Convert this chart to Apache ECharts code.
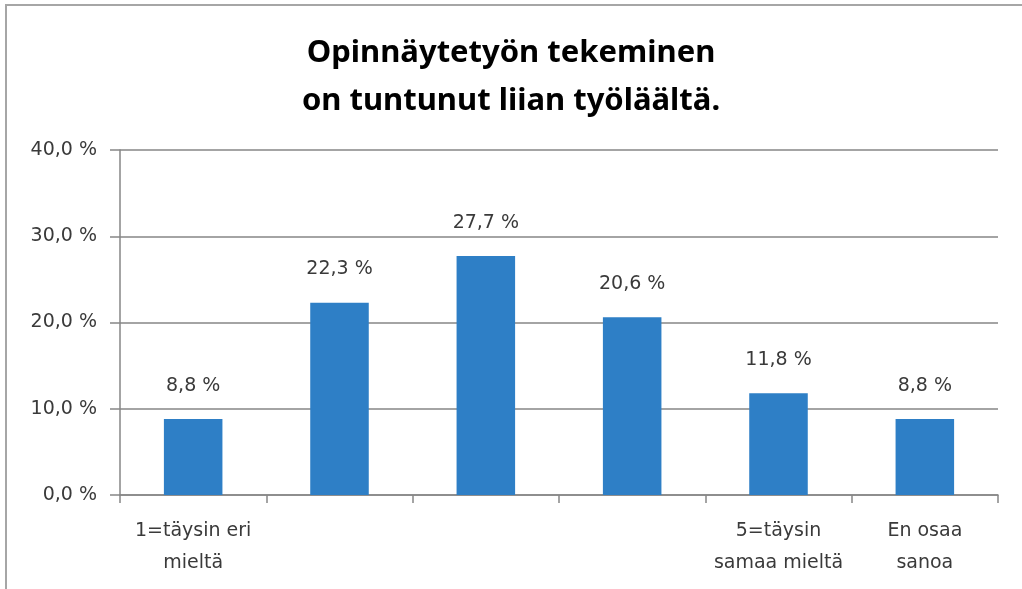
<!DOCTYPE html>
<html>
<head>
<meta charset="utf-8">
<script src="https://cdn.jsdelivr.net/npm/echarts@6/dist/echarts.min.js"></script>
<style>
  html, body { margin: 0; padding: 0; background: #fff; }
  #chart { width: 1022px; height: 589px; }
</style>
</head>
<body>
<div id="chart"></div>
<script>
// data
const categories = ['1=täysin eri\nmieltä', '', '', '', '5=täysin\nsamaa mieltä', 'En osaa\nsanoa'];
const shares = [8.8, 22.3, 27.7, 20.6, 11.8, 8.8];
const yTicks = [0, 10, 20, 30, 40];

const titleText = 'Opinnäytetyön tekeminen\non tuntunut liian työläältä.';
const axisGray = '#868686';
const textGray = '#3a3a3a';
const labelFont = 'DejaVu Sans, sans-serif';

function pct(v) {
    return v.toFixed(1).replace('.', ',') + ' %';
}

const chart = echarts.init(document.getElementById('chart'), null, { renderer: 'canvas' });

chart.setOption({
    animation: false,
    backgroundColor: '#fff',
    title: {
        text: titleText,
        left: 'center',
        top: 24,
        textStyle: {
            fontFamily: 'Noto Sans, sans-serif',
            fontSize: 31,
            fontWeight: 'bold',
            color: '#000',
            lineHeight: 48
        }
    },
    graphic: [{
        type: 'rect',
        shape: { x: 6, y: 5, width: 1200, height: 800 },
        style: { fill: 'none', stroke: '#a6a6a6', lineWidth: 2 },
        silent: true
    }],
    grid: { left: 120, right: 24, top: 150, bottom: 94 },
    xAxis: {
        type: 'category',
        data: categories,
        axisLine: { lineStyle: { color: axisGray, width: 1.5 } },
        axisTick: { show: true, length: 8, lineStyle: { color: axisGray, width: 1.5 } },
        axisLabel: {
            interval: 0,
            margin: 20,
            fontFamily: labelFont,
            fontSize: 19,
            lineHeight: 32,
            color: textGray
        }
    },
    yAxis: {
        type: 'value',
        min: yTicks[0],
        max: yTicks[yTicks.length - 1],
        interval: 10,
        axisLine: { show: true, lineStyle: { color: axisGray, width: 1.5 } },
        axisTick: { show: true, length: 10, lineStyle: { color: axisGray, width: 1.5 } },
        splitLine: { lineStyle: { color: axisGray, width: 1.5 } },
        axisLabel: {
            margin: 23,
            fontFamily: labelFont,
            fontSize: 19,
            color: textGray,
            formatter: v => pct(v)
        }
    },
    series: [{
        type: 'bar',
        data: shares,
        barWidth: '40%',
        itemStyle: { color: '#2e7fc6' },
        label: {
            show: true,
            position: 'top',
            distance: 24,
            fontFamily: labelFont,
            fontSize: 19,
            color: textGray,
            formatter: p => pct(p.value)
        }
    }]
});
</script>
</body>
</html>
